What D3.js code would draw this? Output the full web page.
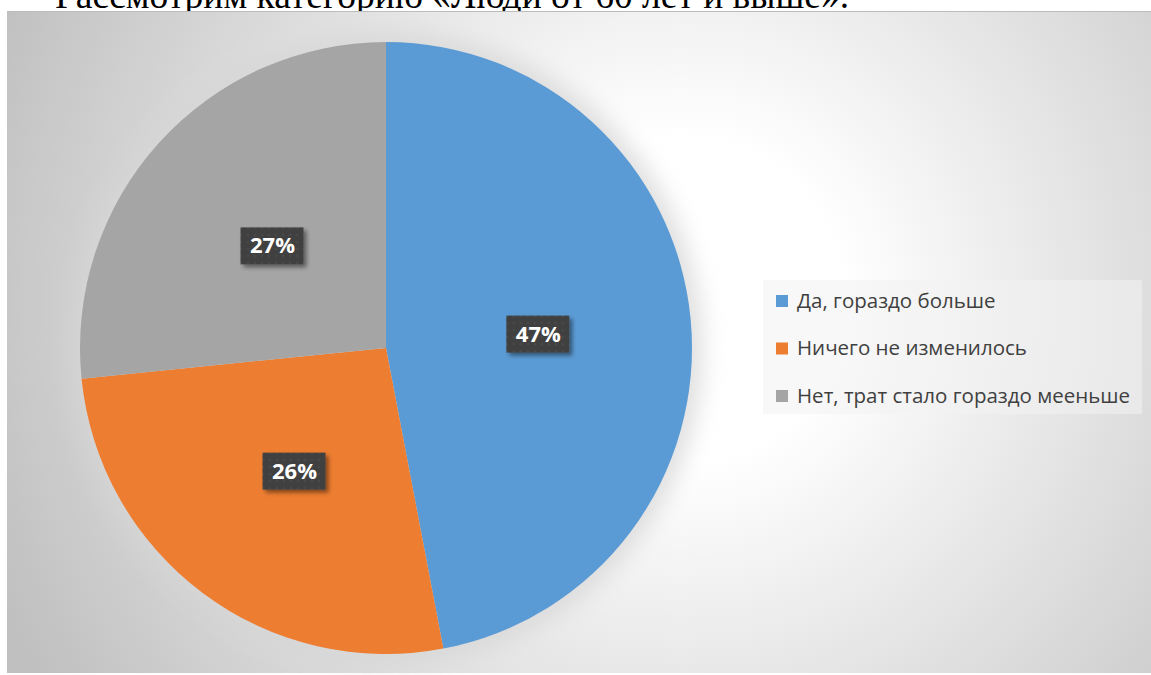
<!DOCTYPE html>
<html>
<head>
<meta charset="utf-8">
<title>Люди от 60 лет и выше</title>
<script src="https://d3js.org/d3.v7.min.js"></script>
<style>
  body { margin: 0; background: #fff; }
  svg { display: block; }
</style>
</head>
<body>
<svg id="chart" width="1151" height="675"></svg>
<script>
// data
var categories = ["Да, гораздо больше", "Ничего не изменилось", "Нет, трат стало гораздо мееньше"];
var values = [47, 26.4, 26.6];
var colors = ["#5b9bd5", "#ed7d31", "#a5a5a5"];

var svg = d3.select("#chart");
var defs = svg.append("defs");

// background gradient of the chart area
var bg = defs.append("radialGradient").attr("id", "bgGrad")
  .attr("gradientUnits", "userSpaceOnUse")
  .attr("cx", 680).attr("cy", 300).attr("r", 740);
bg.append("stop").attr("offset", "0").attr("stop-color", "#ffffff");
bg.append("stop").attr("offset", "0.22").attr("stop-color", "#ffffff");
bg.append("stop").attr("offset", "1").attr("stop-color", "#c0c0c0");

// soft halo around the pie
defs.append("filter").attr("id", "halo")
  .attr("x", "-30%").attr("y", "-30%").attr("width", "160%").attr("height", "160%")
  .append("feGaussianBlur").attr("stdDeviation", 12);

// drop shadow for the data labels
var sh = defs.append("filter").attr("id", "lblShadow")
  .attr("x", "-30%").attr("y", "-30%").attr("width", "160%").attr("height", "160%");
sh.append("feGaussianBlur").attr("in", "SourceAlpha").attr("stdDeviation", 2).attr("result", "b");
sh.append("feOffset").attr("in", "b").attr("dx", 3).attr("dy", 3).attr("result", "o");
sh.append("feComponentTransfer").attr("in", "o").attr("result", "o2")
  .append("feFuncA").attr("type", "linear").attr("slope", 0.45);
var mg = sh.append("feMerge");
mg.append("feMergeNode").attr("in", "o2");
mg.append("feMergeNode").attr("in", "SourceGraphic");

// dotted texture of the label boxes
var pat = defs.append("pattern").attr("id", "dots")
  .attr("patternUnits", "userSpaceOnUse").attr("width", 7).attr("height", 7);
pat.append("rect").attr("width", 7).attr("height", 7).attr("fill", "#404040");
pat.append("circle").attr("cx", 3.5).attr("cy", 3.5).attr("r", 1.1).attr("fill", "#505050");

// heading text cut off at the top of the page
svg.append("text")
  .attr("x", 55).attr("y", 8)
  .style("font-family", "'Liberation Serif', 'Times New Roman', serif")
  .style("font-size", "37.5px")
  .attr("fill", "#000")
  .text("Рассмотрим категорию «Люди от 60 лет и выше».");

// chart area
svg.append("rect")
  .attr("x", 7).attr("y", 11).attr("width", 1144).attr("height", 662)
  .attr("fill", "url(#bgGrad)");
svg.append("line")
  .attr("x1", 7).attr("x2", 1151).attr("y1", 11.5).attr("y2", 11.5)
  .attr("stroke", "#bcbcbc").attr("stroke-width", 1);

var cx = 386, cy = 348, R = 306;

svg.append("circle")
  .attr("cx", cx).attr("cy", cy).attr("r", R + 10)
  .attr("fill", "#d6d6d6").attr("opacity", 0.8)
  .attr("filter", "url(#halo)");

var pie = d3.pie().sort(null).value(function(d) { return d; });
var arcs = pie(values);
var arc = d3.arc().innerRadius(0).outerRadius(R);
var labelArc = d3.arc().innerRadius(R * 0.5).outerRadius(R * 0.5);

var g = svg.append("g").attr("transform", "translate(" + cx + "," + cy + ")");

g.selectAll("path.slice")
  .data(arcs)
  .enter().append("path")
  .attr("class", "slice")
  .attr("d", arc)
  .attr("fill", function(d, i) { return colors[i]; });

var total = d3.sum(values);

var lbl = g.selectAll("g.lbl")
  .data(arcs)
  .enter().append("g")
  .attr("class", "lbl")
  .attr("transform", function(d) {
    var c = labelArc.centroid(d);
    return "translate(" + c[0] + "," + c[1] + ")";
  });

lbl.append("rect")
  .attr("x", -32).attr("y", -18).attr("width", 63).attr("height", 37)
  .attr("fill", "url(#dots)")
  .attr("filter", "url(#lblShadow)");

lbl.append("text")
  .attr("text-anchor", "middle")
  .attr("dy", "0.36em")
  .style("font-family", "'Open Sans', sans-serif")
  .style("font-weight", "bold")
  .style("font-size", "22px")
  .attr("fill", "#ffffff")
  .text(function(d) { return Math.round(d.value / total * 100) + "%"; });

// legend
var legend = svg.append("g");
legend.append("rect")
  .attr("x", 763).attr("y", 280).attr("width", 379).attr("height", 134)
  .attr("fill", "#f2f2f2").attr("opacity", 0.55);

var rowY = d3.scalePoint().domain(categories).range([300, 395]);

var item = legend.selectAll("g.item")
  .data(categories)
  .enter().append("g")
  .attr("class", "item")
  .attr("transform", function(d) { return "translate(776," + rowY(d) + ")"; });

item.append("rect")
  .attr("x", 0).attr("y", -5).attr("width", 12).attr("height", 12)
  .attr("fill", function(d, i) { return colors[i]; });

item.append("text")
  .attr("x", 21).attr("dy", "0.38em")
  .style("font-family", "'Open Sans', sans-serif")
  .style("font-size", "20.5px")
  .attr("fill", "#404040")
  .text(function(d) { return d; });
</script>
</body>
</html>
